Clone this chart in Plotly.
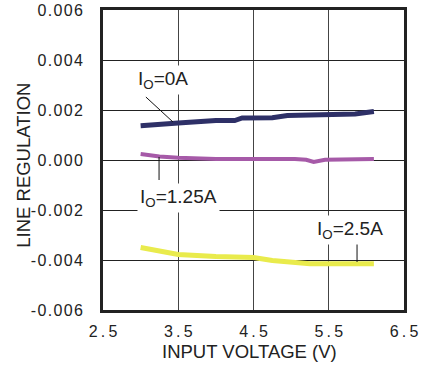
import plotly.graph_objects as go

# ---- data ----
x_io0 = [3.0, 3.25, 3.5, 4.0, 4.25, 4.35, 4.75, 4.95, 5.5, 5.85, 6.1]
y_io0 = [0.00137, 0.00145, 0.00148, 0.00158, 0.00158, 0.00168, 0.00169, 0.00178, 0.00182, 0.00184, 0.00194]

x_io125 = [3.0, 3.25, 3.5, 3.75, 4.0, 5.05, 5.2, 5.3, 5.45, 6.1]
y_io125 = [0.00024, 0.00014, 0.00009, 0.00006, 0.00004, 0.00004, 0.00001, -0.00008, 0.00001, 0.00004]

x_io25 = [3.0, 3.25, 3.5, 4.0, 4.5, 4.75, 5.0, 5.25, 5.5, 6.1]
y_io25 = [-0.0035, -0.00366, -0.00378, -0.00386, -0.0039, -0.00402, -0.0041, -0.00415, -0.00415, -0.00415]

x_ticks = [2.5, 3.5, 4.5, 5.5, 6.5]
x_ticktext = ["2\u2009.\u20095", "3\u2009.\u20095", "4\u2009.\u20095", "5\u2009.\u20095", "6\u2009.\u20095"]
y_ticks = [0.006, 0.004, 0.002, 0.0, -0.002, -0.004, -0.006]
y_labels = ["0.006", "0.004", "0.002", "0.000", "-0.002", "-0.004", "-0.006"]
y_ticktext = ["\u200a".join(list(s)) for s in y_labels]

label_text = ["I<sub>O</sub>=0A", "I<sub>O</sub>=1.25A", "I<sub>O</sub>=2.5A"]
label_x = [3.295, 3.5, 5.787]
label_y = [0.0032, -0.0015, -0.0028]

# leader lines: (x0, y0, x1, y1)
leaders = [
    (3.07, 0.00252, 3.43, 0.00152),
    (3.245, 0.00012, 3.245, -0.0008),
    (5.876, -0.00332, 5.876, -0.00408),
]

FONT = "Liberation Sans, Arial, sans-serif"

fig = go.Figure()
fig.add_trace(go.Scatter(x=x_io0, y=y_io0, mode="lines",
                         line=dict(color="#2e3067", width=5), showlegend=False))
fig.add_trace(go.Scatter(x=x_io125, y=y_io125, mode="lines",
                         line=dict(color="#a65aa8", width=4), showlegend=False))
fig.add_trace(go.Scatter(x=x_io25, y=y_io25, mode="lines",
                         line=dict(color="#e9eb4c", width=5), showlegend=False))

for (x0, y0, x1, y1) in leaders:
    fig.add_shape(type="line", x0=x0, y0=y0, x1=x1, y1=y1, xref="x", yref="y",
                  line=dict(color="#111", width=1))

for t, lx, ly in zip(label_text, label_x, label_y):
    fig.add_annotation(x=lx, y=ly, xref="x", yref="y", text=t, showarrow=False,
                       bgcolor="white", borderpad=2,
                       font=dict(family=FONT, size=19, color="#222"))

fig.add_annotation(x=-0.267, y=0.483, xref="paper", yref="paper",
                   xanchor="center", yanchor="middle",
                   text="LINE REGULATION", textangle=-90, showarrow=False,
                   font=dict(family=FONT, size=18.5, color="#222"))
fig.add_annotation(x=0.488, y=-0.137, xref="paper", yref="paper",
                   xanchor="center", yanchor="middle",
                   text="INPUT VOLTAGE (V)", showarrow=False,
                   font=dict(family=FONT, size=18.5, color="#222"))

fig.update_xaxes(range=[2.5, 6.5], tickvals=x_ticks, ticktext=x_ticktext,
                 showgrid=True, gridcolor="#444", gridwidth=1,
                 showline=True, mirror=True, linecolor="#222", linewidth=3,
                 zeroline=False, ticks="", ticklabelstandoff=5, automargin=False,
                 tickfont=dict(family=FONT, size=16, color="#222"))
fig.update_yaxes(range=[-0.006, 0.006], tickvals=y_ticks, ticktext=y_ticktext,
                 showgrid=True, gridcolor="#222", gridwidth=1,
                 showline=True, mirror=True, linecolor="#222", linewidth=3,
                 zeroline=False, ticks="", ticklabelstandoff=14, automargin=False,
                 tickfont=dict(family=FONT, size=16, color="#222"))

fig.update_layout(width=429, height=368,
                  margin=dict(l=103, r=25, t=10, b=58),
                  paper_bgcolor="white", plot_bgcolor="white")

fig.write_html("out.html")
